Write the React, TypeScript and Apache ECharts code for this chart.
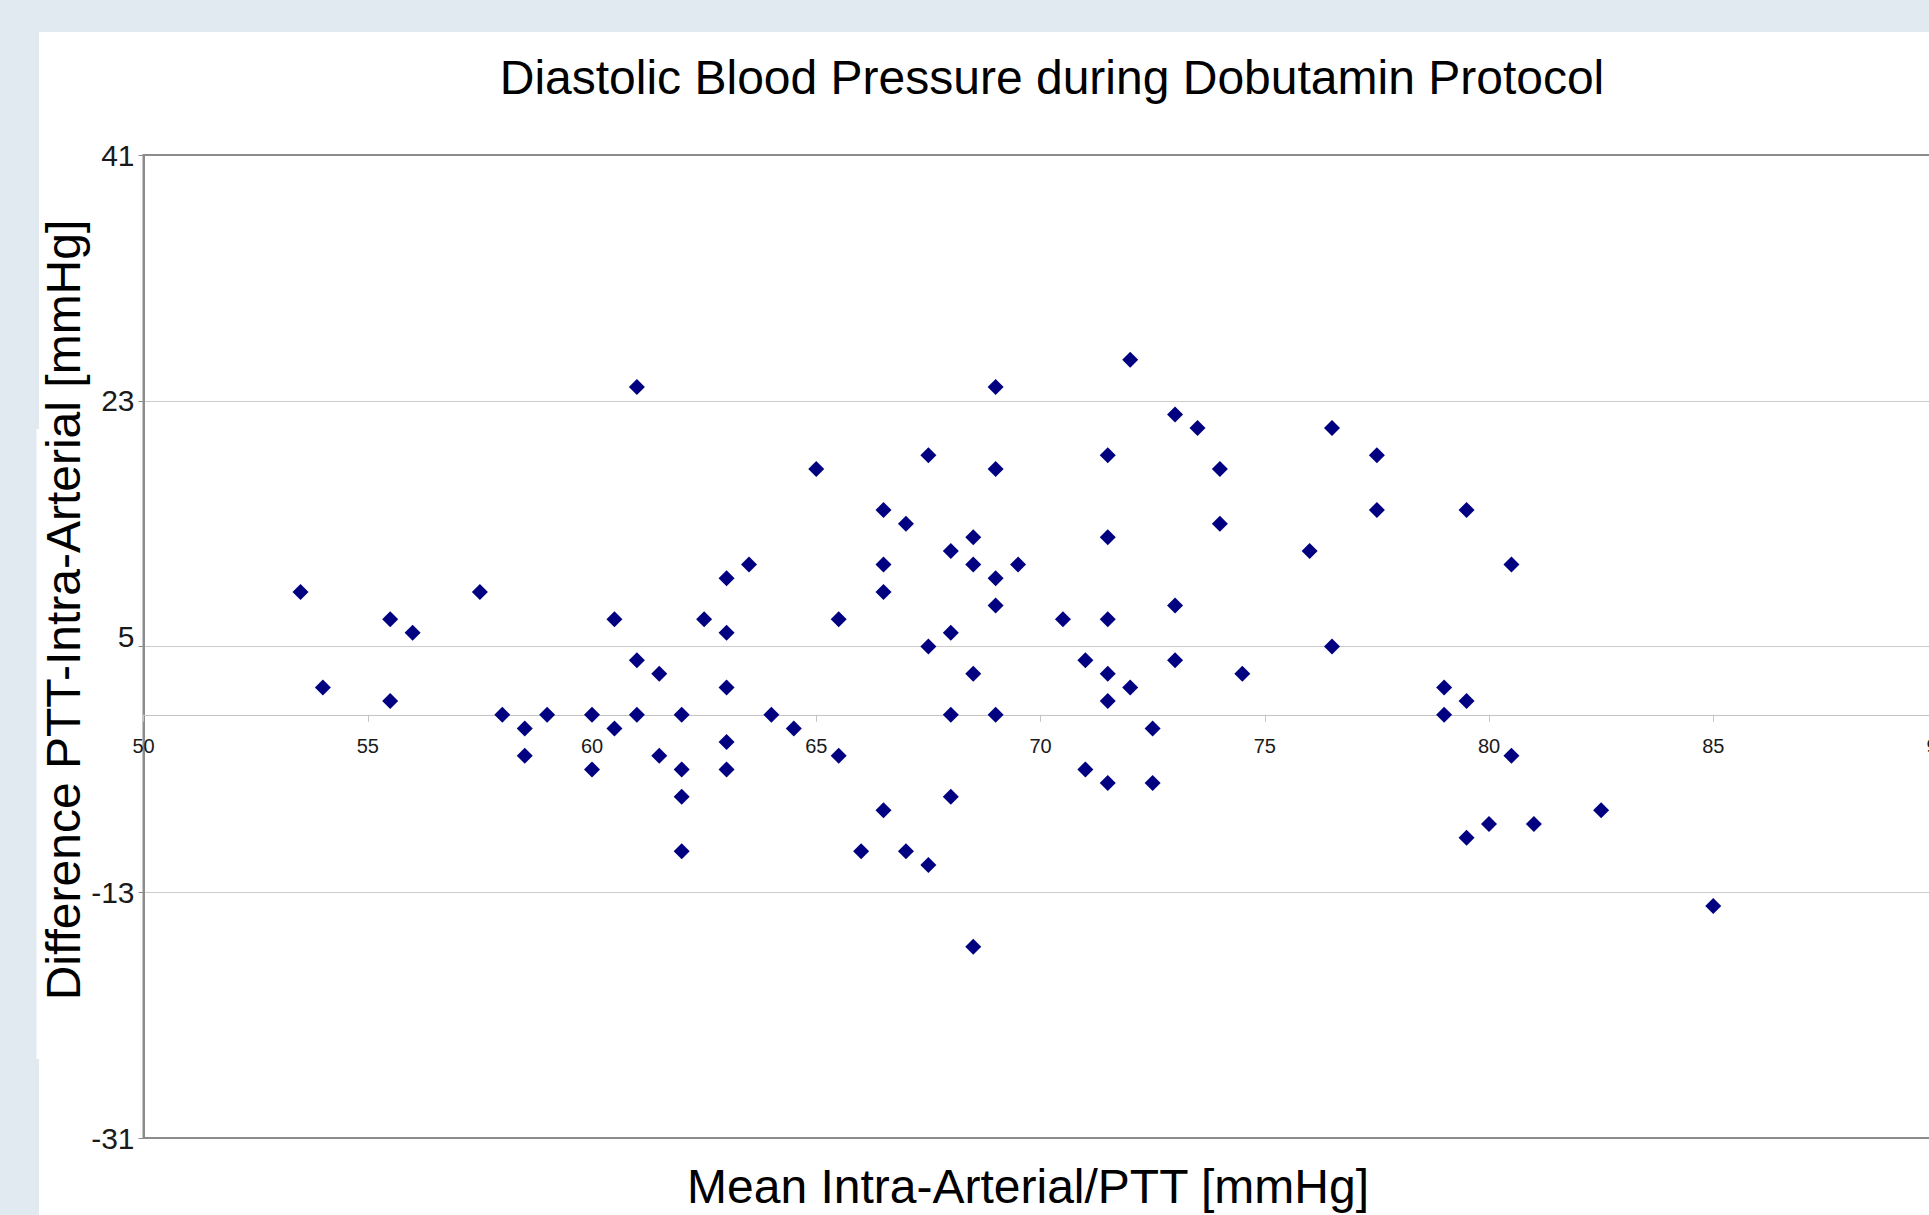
import React, { useEffect, useRef } from 'react';
import * as echarts from 'echarts';

// Mean Intra-Arterial/PTT [mmHg]
const meanValues = [
  53.5, 54, 55.5, 55.5, 56, 57.5, 58, 58.5, 58.5, 59,
  60, 60, 60.5, 60.5, 61, 61, 61, 61.5, 61.5, 62,
  62, 62, 62, 62.5, 63, 63, 63, 63, 63, 63.5,
  64, 64.5, 65, 65.5, 65.5, 66, 66.5, 66.5, 66.5, 66.5,
  67, 67, 67.5, 67.5, 67.5, 68, 68, 68, 68, 68.5,
  68.5, 68.5, 68.5, 69, 69, 69, 69, 69, 69.5, 70.5,
  71, 71, 71.5, 71.5, 71.5, 71.5, 71.5, 71.5, 72, 72,
  72.5, 72.5, 73, 73, 73, 73.5, 74, 74, 74.5, 76,
  76.5, 76.5, 77.5, 77.5, 79, 79, 79.5, 79.5, 79.5, 80,
  80.5, 80.5, 81, 82.5, 85,
];

// Difference PTT-Intra-Arterial [mmHg]
const diffValues = [
  9, 2, 7, 1, 6, 9, 0, -1, -3, 0,
  0, -4, 7, -1, 24, 4, 0, 3, -3, 0,
  -4, -6, -10, 7, 10, 6, 2, -2, -4, 11,
  0, -1, 18, 7, -3, -10, 15, 11, 9, -7,
  14, -10, 19, 5, -11, 12, 6, 0, -6, 13,
  11, 3, -17, 24, 18, 10, 8, 0, 11, 7,
  4, -4, 19, 13, 7, 3, 1, -5, 26, 2,
  -1, -5, 22, 8, 4, 21, 18, 14, 3, 12,
  21, 5, 19, 15, 2, 0, 15, 1, -9, -8,
  11, -3, -8, -7, -14,
];

const xMin = 50;
const xMax = 90;
const xStep = 5;
const yMin = -31;
const yMax = 41;
const yStep = 18;

const titleText = 'Diastolic Blood Pressure during Dobutamin Protocol';
const xName = 'Mean Intra-Arterial/PTT [mmHg]';
const yName = 'Difference PTT-Intra-Arterial [mmHg]';

const FONT = '"Liberation Sans", Arial, sans-serif';

const GRID_LEFT = 143.5;
const GRID_TOP = 155;
const GRID_W = 1794;
const GRID_H = 983;

export default function App() {
  const ref = useRef<HTMLDivElement>(null);

  useEffect(() => {
    if (!ref.current) return;
    const chart = echarts.init(ref.current, undefined, { renderer: 'svg' });
    const points = meanValues.map((x, i) => [x, diffValues[i]]);
    // place the x axis where y = 0 crosses the plot
    const zeroOffset = -((0 - yMin) / (yMax - yMin)) * GRID_H;

    chart.setOption({
      animation: false,
      backgroundColor: '#e1e9f1',
      grid: {
        left: GRID_LEFT,
        top: GRID_TOP,
        width: GRID_W,
        height: GRID_H,
        show: true,
        borderColor: '#8c8c8c',
        borderWidth: 2,
        backgroundColor: 'transparent',
        containLabel: false,
        outerBoundsMode: 'none',
      },
      xAxis: {
        type: 'value',
        min: xMin,
        max: xMax,
        interval: xStep,
        position: 'bottom',
        offset: zeroOffset,
        axisLine: { show: true, onZero: false, lineStyle: { color: '#c4c4c4', width: 1 } },
        axisTick: { show: true, length: 7, inside: false, lineStyle: { color: '#c4c4c4', width: 1 } },
        axisLabel: { margin: 21, fontSize: 20, fontFamily: FONT, color: '#1a1a1a' },
        splitLine: { show: false },
      },
      yAxis: {
        type: 'value',
        min: yMin,
        max: yMax,
        interval: yStep,
        axisLine: { show: true, lineStyle: { color: '#8c8c8c', width: 2 } },
        axisTick: { show: true, length: 5, lineStyle: { color: '#8c8c8c', width: 1 } },
        axisLabel: {
          margin: 9,
          fontSize: 30,
          fontFamily: FONT,
          color: '#1a1a1a',
          formatter: (v: number) => (v === 5 ? '{up|5}' : String(v)),
          rich: {
            up: { fontSize: 30, fontFamily: FONT, color: '#1a1a1a', padding: [0, 0, 20, 0] },
          },
        },
        splitLine: {
          show: true,
          showMinLine: false,
          showMaxLine: false,
          lineStyle: { color: '#cccccc', width: 1 },
        },
      },
      series: [
        {
          type: 'scatter',
          symbol: 'diamond',
          symbolSize: 16,
          itemStyle: { color: '#000080', opacity: 1 },
          data: points,
          z: 5,
        },
      ],
      graphic: [
        {
          type: 'rect',
          z: -10,
          shape: { x: 39, y: 32, width: 2000, height: 1300 },
          style: { fill: '#ffffff' },
          silent: true,
        },
        {
          type: 'rect',
          z: -10,
          shape: { x: 36.5, y: 429, width: 4, height: 630 },
          style: { fill: '#ffffff' },
          silent: true,
        },
        {
          type: 'text',
          z: 10,
          x: 1052,
          y: 77,
          style: {
            text: titleText,
            fontSize: 48,
            fontFamily: FONT,
            fill: '#000000',
            align: 'center',
            verticalAlign: 'middle',
          },
        },
        {
          type: 'text',
          z: 10,
          x: 1028,
          y: 1186,
          style: {
            text: xName,
            fontSize: 48,
            fontFamily: FONT,
            fill: '#000000',
            align: 'center',
            verticalAlign: 'middle',
          },
        },
        {
          type: 'text',
          z: 10,
          x: 63,
          y: 610,
          rotation: Math.PI / 2,
          style: {
            text: yName,
            fontSize: 48,
            fontFamily: FONT,
            fill: '#000000',
            align: 'center',
            verticalAlign: 'middle',
          },
        },
      ],
    });

    return () => {
      chart.dispose();
    };
  }, []);

  return (
    <div
      style={{
        position: 'fixed',
        left: 0,
        top: 0,
        width: 1929,
        height: 1215,
        overflow: 'hidden',
        background: '#e1e9f1',
      }}
    >
      <div ref={ref} style={{ width: 1960, height: 1215 }} />
    </div>
  );
}
